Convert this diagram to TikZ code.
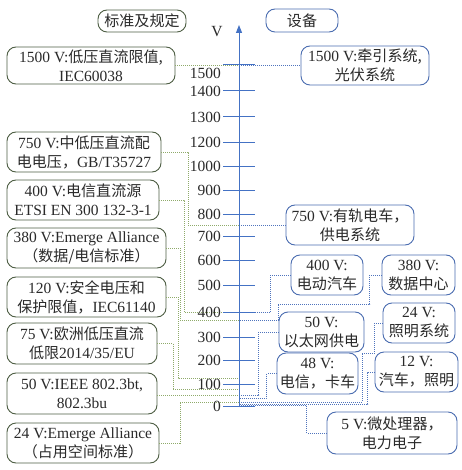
\documentclass[tikz,border=0pt]{standalone}
\usepackage{fontspec}
\setmainfont{Liberation Serif}
\newfontfamily\zhfont[Scale=0.97]{Noto Sans CJK SC}
\newcommand{\zh}[1]{{\zhfont #1}}
\usetikzlibrary{arrows.meta}
\definecolor{axisblue}{HTML}{4472C4}
\definecolor{lborder}{HTML}{4E5E44}
\definecolor{ldot}{HTML}{8FAA6A}
\definecolor{rborder}{HTML}{4A6DB0}
\definecolor{rdot}{HTML}{4F74BD}
\definecolor{txt}{HTML}{2A2A2A}
\begin{document}
\begin{tikzpicture}[x=1pt,y=-1pt,
  basebox/.style={line width=0.9pt, rounded corners=9pt, fill=white, align=center,
    inner sep=0pt, text=txt, font=\fontsize{15.5}{19}\selectfont},
  lbox/.style={basebox, draw=lborder},
  rbox/.style={basebox, draw=rborder},
  ldots/.style={draw=ldot, line width=0.8pt, dash pattern=on 1pt off 1pt},
  rdots/.style={draw=rdot, line width=0.8pt, dash pattern=on 1pt off 1pt},
  tickline/.style={draw=axisblue, line width=1pt},
  ticklabel/.style={anchor=east, inner sep=0pt, text=txt, font=\fontsize{15.5}{17}\selectfont}
]
\useasboundingbox[fill=white] (0,0) rectangle (461,470);

% headers
\node[lbox, minimum width=88pt, minimum height=22pt] (H1) at (142,21) {\zh{标准及规定}};
\node[rbox, minimum width=72pt, minimum height=23pt] (H2) at (302,20.5) {\zh{设备}};
\node[ticklabel, anchor=center] (vlab) at (217,32) {V};

% axis level coordinates
\coordinate (a1500) at (239,65);
\coordinate (a750) at (239,225);
\coordinate (a400) at (239,312.5);
\coordinate (a380) at (239,320);
\coordinate (a120) at (239,378);
\coordinate (a75) at (239,389.5);
\coordinate (a50) at (239,395);
\coordinate (a48) at (239,398);
\coordinate (a24) at (239,402);
\coordinate (a12) at (239,404);
\coordinate (a5) at (239,405.5);
\coordinate (abot) at (239,407);
\coordinate (atop) at (239,25);

% left boxes
\node[lbox, minimum width=168pt, minimum height=37pt] (L1) at (91,65.5) {1500 V:\zh{低压直流限值,}\\IEC60038};
\node[lbox, minimum width=154pt, minimum height=40pt] (L2) at (84,152) {750 V:\zh{中低压直流配}\\\zh{电电压，}GB/T35727};
\node[lbox, minimum width=152pt, minimum height=40pt] (L3) at (83,200) {400 V:\zh{电信直流源}\\ETSI EN 300 132-3-1};
\node[lbox, minimum width=159pt, minimum height=40pt] (L4) at (86.5,248) {380 V:Emerge Alliance\\\zh{（数据/电信标准）}};
\node[lbox, minimum width=159pt, minimum height=40pt] (L5) at (86.5,297) {120 V:\zh{安全电压和}\\\zh{保护限值，}IEC61140};
\node[lbox, minimum width=150pt, minimum height=41pt] (L6) at (82,343.5) {75 V:\zh{欧洲低压直流}\\\zh{低限}2014/35/EU};
\node[lbox, minimum width=150pt, minimum height=41pt] (L7) at (82,393.5) {50 V:IEEE 802.3bt,\\802.3bu};
\node[lbox, minimum width=152pt, minimum height=40pt] (L8) at (83,443) {24 V:Emerge Alliance\\\zh{（占用空间标准）}};

% right boxes
\node[rbox, minimum width=128pt, minimum height=39pt] (R1) at (365,65.5) {1500 V:\zh{牵引系统,}\\\zh{光伏系统}};
\node[rbox, minimum width=128pt, minimum height=40pt] (R2) at (350,225) {750 V:\zh{有轨电车，}\\\zh{供电系统}};
\node[rbox, minimum width=72pt, minimum height=40pt] (R3) at (327,275) {400 V:\\\zh{电动汽车}};
\node[rbox, minimum width=73pt, minimum height=40pt] (R4) at (418.5,275) {380 V:\\\zh{数据中心}};
\node[rbox, minimum width=85pt, minimum height=40pt] (R5) at (321.5,332) {50 V:\\\zh{以太网供电}};
\node[rbox, minimum width=72pt, minimum height=40pt] (R6) at (419,323) {24 V:\\\zh{照明系统}};
\node[rbox, minimum width=81pt, minimum height=41pt] (R7) at (317.5,373.5) {48 V:\\\zh{电信，卡车}};
\node[rbox, minimum width=83pt, minimum height=40pt] (R8) at (416.5,372) {12 V:\\\zh{汽车，照明}};
\node[rbox, minimum width=130pt, minimum height=42pt] (R9) at (392,433) {5 V:\zh{微处理器，}\\\zh{电力电子}};

% left connectors
\draw[ldots] (L1.east |- a1500) -- (a1500);
\draw[ldots] (L2.east) -- ++(27,0) |- (a750);
\draw[ldots] (L3.east) -- ++(25,0) |- (a400);
\draw[ldots] (L4.east) -- ++(14,0) |- (a380);
\draw[ldots] (L5.east) -- ++(12,0) |- (a120);
\draw[ldots] (L6.east) -- ++(16,0) |- (a75);
\draw[ldots] (L7.east |- a50) -- (a50);
\draw[ldots] (L8.east) -- ++(21,0) |- (a24);

% right connectors
\draw[rdots] (a1500) -- (R1.west |- a1500);
\draw[rdots] (a750) -- (R2.west);
\draw[rdots] (R3.west) -- ++(-20,0) |- (a400);
\draw[rdots] (R4.west) -- ++(-12,0) |- (278,304) |- (a380);
\draw[rdots] (R5.west) -- ++(-20,0) |- (a50);
\draw[rdots] (R6.west) -- ++(-8,0) |- (362,353) |- (a24);
\draw[rdots] (R7.west) -- ++(-10,0) |- (a48);
\draw[rdots] (R8.west) -- ++(-7,0) |- (a12);
\draw[rdots] (R9.west) -- ++(-20,0) |- (a5);

% ticks and labels
\draw[tickline] (223,65) -- (255,65);
\node[ticklabel] (t1500) at (221,73) {1500};
\foreach \v/\y in {1400/91,1300/117,1200/142.5,1000/166.7,900/190.7,800/214.3,700/236.7,600/260.7,500/285.7,400/312.5,300/337,200/360.7,100/384,0/406.7}{
  \draw[tickline] (223,\y) -- (255,\y);
  \node[ticklabel] (t\v) at (221,\y) {\v};
}

% axis
\draw[draw=axisblue, line width=1pt, -{Triangle[length=8pt,width=6pt]}] (abot) -- (atop);
\end{tikzpicture}
\end{document}
